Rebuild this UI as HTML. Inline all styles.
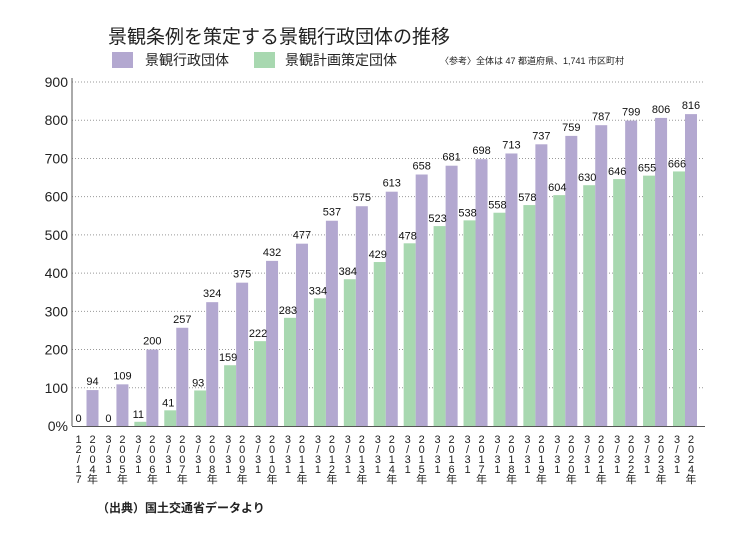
<!DOCTYPE html>
<html><head><meta charset="utf-8"><style>
body{margin:0;background:#fff;font-family:"Liberation Sans","Noto Sans CJK JP",sans-serif;}
svg text{font-family:"Liberation Sans","Noto Sans CJK JP",sans-serif;}
</style></head><body>
<svg id="c" width="750" height="540" viewBox="0 0 750 540" xmlns="http://www.w3.org/2000/svg">
<rect width="750" height="540" fill="#fff"/>
<text x="108" y="43" font-size="19" fill="#222">景観条例を策定する景観行政団体の推移</text>
<rect x="112" y="52" width="21" height="16" fill="#b3a8d0"/>
<text x="145" y="65" font-size="14" fill="#222">景観行政団体</text>
<rect x="254" y="52" width="21" height="16" fill="#a8d8b0"/>
<text x="285" y="65" font-size="14" fill="#222">景観計画策定団体</text>
<text x="440" y="64" font-size="9" fill="#222">〈参考〉全体は 47 都道府県、1,741 市区町村</text>
<g id="grid"></g><g id="bars"></g><g id="labels"></g>
<text x="97" y="512" font-size="12" font-weight="bold" fill="#222">（出典）国土交通省データより</text>
</svg>
<script>
const years=["2004年","2005年","2006年","2007年","2008年","2009年","2010年","2011年","2012年","2013年","2014年","2015年","2016年","2017年","2018年","2019年","2020年","2021年","2022年","2023年","2024年"];
const dates=["12/17","3/31","3/31","3/31","3/31","3/31","3/31","3/31","3/31","3/31","3/31","3/31","3/31","3/31","3/31","3/31","3/31","3/31","3/31","3/31","3/31"];
const adminValues=[94,109,200,257,324,375,432,477,537,575,613,658,681,698,713,737,759,787,799,806,816];
const planValues=[0,0,11,41,93,159,222,283,334,384,429,478,523,538,558,578,604,630,646,655,666];
const yTicks=[0,100,200,300,400,500,600,700,800,900];
const yTickLabels=["0%","100","200","300","400","500","600","700","800","900"];
const NS="http://www.w3.org/2000/svg";
const y=v=>426-v*(344/900);
const step=(691-92.5)/(years.length-1);
const xP=i=>92.5+i*step, xG=i=>80.5+i*step;
function mk(t,a,p){const e=document.createElementNS(NS,t);for(const k in a)e.setAttribute(k,a[k]);p.appendChild(e);return e;}
const grid=document.getElementById('grid'),bars=document.getElementById('bars'),labels=document.getElementById('labels');
yTicks.forEach((t,i)=>{
 if(t>0){const l=mk('line',{x1:72,x2:705,y1:y(t),y2:y(t),stroke:'#999','stroke-dasharray':'1,2','stroke-width':1},grid);
 
 }
 const tx=mk('text',{x:68,y:y(t)+5,'font-size':14,'text-anchor':'end',fill:'#222'},grid);tx.textContent=yTickLabels[i];
 
 
});
const ax=mk('line',{x1:72,x2:72,y1:78,y2:426,stroke:'#555','stroke-width':1},grid);


const bx=mk('line',{x1:72,x2:705,y1:426.5,y2:426.5,stroke:'#555','stroke-width':1},grid);


function vtext(str,cx,g,name){
 [...str].forEach((ch,k)=>{const t=mk('text',{x:cx,y:443+k*10,'font-size':11,'text-anchor':'middle',fill:'#222'},g);t.textContent=ch;
 
 });
}
years.forEach((yr,i)=>{
 const w=12;
 const gb=mk('rect',{x:xG(i)-w/2,y:y(planValues[i]),width:w,height:426-y(planValues[i]),fill:'#a8d8b0'},bars);
 
 
 const pb=mk('rect',{x:xP(i)-w/2,y:y(adminValues[i]),width:w,height:426-y(adminValues[i]),fill:'#b3a8d0'},bars);
 
 
 const gl=mk('text',{x:xG(i)-2,y:y(planValues[i])-4,'font-size':11,'text-anchor':'middle',fill:'#111'},labels);gl.textContent=planValues[i];
 
 
 const pl=mk('text',{x:xP(i),y:y(adminValues[i])-5,'font-size':11,'text-anchor':'middle',fill:'#111'},labels);pl.textContent=adminValues[i];
 
 
 vtext(dates[i],xG(i)-2,labels,'x-date-label');
 vtext(yr,xP(i),labels,'x-year-label');
});
</script>
</body></html>
